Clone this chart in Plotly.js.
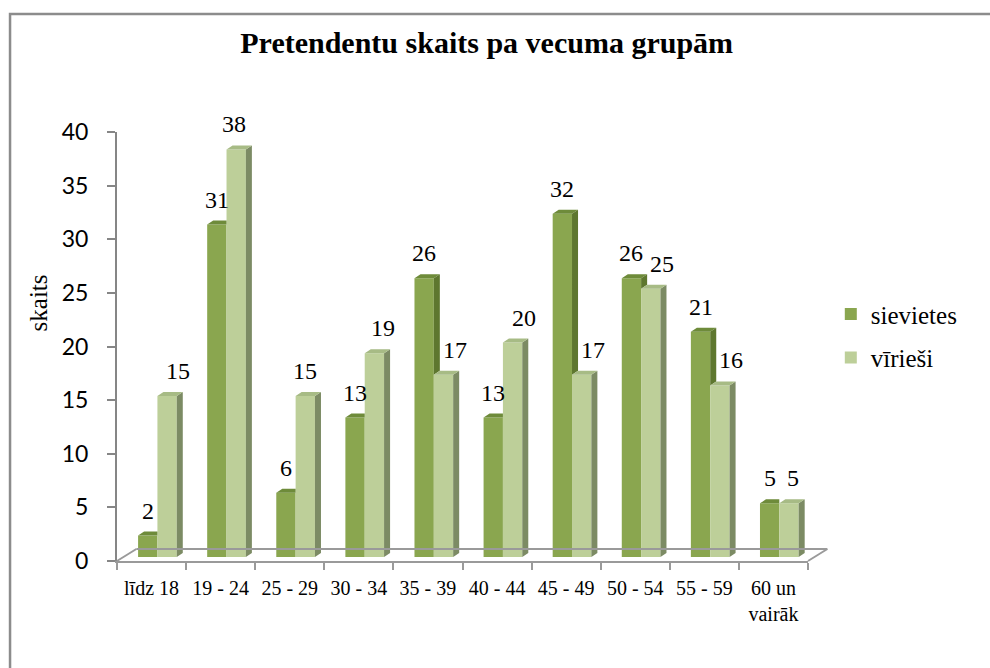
<!DOCTYPE html>
<html>
<head>
<meta charset="utf-8">
<script src="https://cdn.plot.ly/plotly-3.0.1.min.js"></script>
<style>html,body{margin:0;padding:0;background:#fff;}#chart{width:990px;height:668px;}</style>
</head>
<body>
<div id="chart"></div>
<script>
// ---- data ----
const categories = ['līdz 18', '19 - 24', '25 - 29', '30 - 34', '35 - 39', '40 - 44', '45 - 49', '50 - 54', '55 - 59', '60 un<br>vairāk'];
const sievietes = [2, 31, 6, 13, 26, 13, 32, 26, 21, 5];
const virieši = [15, 38, 15, 19, 17, 20, 17, 25, 16, 5];
const seriesNames = ['sievietes', 'vīrieši'];
const yTicks = [0, 5, 10, 15, 20, 25, 30, 35, 40];
const titleText = 'Pretendentu skaits pa vecuma grupām';
const yTitle = 'skaits';

// ---- styles / geometry ----
const SERIF = "'Liberation Serif', 'Times New Roman', serif";
const FRONT = ['#8aa64f', '#bdcf99'];
const TOP = ['#6e8b3a', '#a7bb85'];
const SIDE = ['#5e772f', '#7c8b64'];
const OFF = [-0.195, 0.085];
const W = 0.28;
const DX = 0.087, DY = 0.373;
const lightNudge = [11, -2, 0, 9, 11, 11, 11, 11, 11, 4];
const series = [sievietes, virieši];
const idx = categories.map((_, i) => i);

const traces = [];
// anchor trace so the primary x/y subplot (and its y axis) is drawn
traces.push({type: 'scatter', mode: 'markers', x: categories, y: categories.map(() => null),
  xaxis: 'x', yaxis: 'y', showlegend: false, hoverinfo: 'skip'});
series.forEach((vals, s) => {
  traces.push({
    type: 'bar', name: seriesNames[s], x: categories, y: vals,
    xaxis: 'x', yaxis: 'y2', offset: OFF[s], width: W,
    marker: {color: FRONT[s], line: {width: 0}},
    legendgroup: 'g' + s, hoverinfo: 'name+y'
  });
});

function faceTrace(xs, ys, color) {
  return {type: 'scatter', mode: 'lines', x: xs, y: ys, xaxis: 'x2', yaxis: 'y2',
    fill: 'toself', fillcolor: color, line: {width: 0, color: color},
    showlegend: false, hoverinfo: 'skip'};
}
let tx = [], ty = [], sx = [], sy = [];
idx.forEach(i => {
  const v = sievietes[i], L = virieši[i];
  const xl = i + OFF[0], xr = xl + W;
  if (L >= v) {
    tx.push(xl, xr, xr, xl + DX, xl, null); ty.push(v, v, v + DY, v + DY, v, null);
  } else {
    tx.push(xl, xr, xr + DX, xl + DX, xl, null); ty.push(v, v, v + DY, v + DY, v, null);
    sx.push(xr, xr, xr + DX, xr + DX, xr, null); sy.push(L, v, v + DY, L + DY, L, null);
  }
});
traces.push(faceTrace(tx, ty, TOP[0]));
traces.push(faceTrace(sx, sy, SIDE[0]));
tx = []; ty = []; sx = []; sy = [];
idx.forEach(i => {
  const v = virieši[i];
  const xl = i + OFF[1], xr = xl + W;
  tx.push(xl, xr, xr + DX, xl + DX, xl, null); ty.push(v, v, v + DY, v + DY, v, null);
  sx.push(xr, xr, xr + DX, xr + DX, xr, null); sy.push(0, v, v + DY, DY, 0, null);
});
traces.push(faceTrace(sx, sy, SIDE[1]));
traces.push(faceTrace(tx, ty, TOP[1]));

const annotations = [];
series.forEach((vals, s) => {
  vals.forEach((v, i) => {
    annotations.push({
      xref: 'x2', yref: 'y2', x: i + OFF[s] + W / 2, y: v,
      text: String(v), showarrow: false, yanchor: 'middle', xanchor: 'center',
      yshift: 25, xshift: s === 1 ? lightNudge[i] : 0,
      font: {family: SERIF, size: 24, color: '#000'}
    });
  });
});
annotations.push({
  xref: 'paper', yref: 'paper', x: -0.114, y: 0.601, text: yTitle, textangle: -90,
  showarrow: false, xanchor: 'center', yanchor: 'middle',
  font: {family: SERIF, size: 25, color: '#000'}
});

const FDX = 0.028, FDY = 0.028;
const gray = '#9a9a9a';
const shapes = [
  {type: 'line', xref: 'paper', yref: 'paper', x0: FDX, y0: FDY, x1: 1 + FDX, y1: FDY, line: {color: gray, width: 2}},
  {type: 'line', xref: 'paper', yref: 'paper', x0: 0, y0: 0, x1: FDX, y1: FDY, line: {color: gray, width: 2}},
  {type: 'line', xref: 'paper', yref: 'paper', x0: 1, y0: 0, x1: 1 + FDX, y1: FDY, line: {color: gray, width: 2}},
  {type: 'rect', xref: 'paper', yref: 'paper', x0: -0.1548, y0: -0.3, x1: 1.3, y1: 1.275, line: {color: '#8c8c8c', width: 2.5}}
];

const layout = {
  width: 990, height: 668,
  margin: {l: 117, r: 182, t: 132, b: 107},
  paper_bgcolor: '#fff', plot_bgcolor: 'rgba(0,0,0,0)',
  barmode: 'overlay',
  title: {text: '<b>' + titleText + '</b>', x: 0.535, xref: 'paper', xanchor: 'center', y: 0.936, yanchor: 'middle',
    font: {family: SERIF, size: 30, color: '#000'}},
  xaxis: {type: 'category', categoryarray: categories, range: [-0.5, 9.5], tickson: 'boundaries',
    ticks: 'outside', ticklen: 7, tickcolor: gray, tickwidth: 2, showline: true, linecolor: gray, linewidth: 2,
    showgrid: false, zeroline: false, tickangle: 0, fixedrange: true, ticklabelstandoff: 8,
    tickfont: {family: SERIF, size: 20, color: '#000'}},
  xaxis2: {overlaying: 'x', range: [-0.5, 9.5], visible: false, fixedrange: true},
  yaxis: {range: [0, 40], tickvals: yTicks, ticks: 'outside', ticklen: 8, tickcolor: '#868686', tickwidth: 2,
    showline: true, linecolor: '#868686', linewidth: 2, showgrid: false, zeroline: false,
    ticklabelstandoff: 14, fixedrange: true,
    tickfont: {family: 'Lato, "Open Sans", sans-serif', size: 23, color: '#000'}},
  yaxis2: {overlaying: 'y', range: [-DY, 40 - DY], visible: false, fixedrange: true},
  showlegend: true,
  legend: {x: 1.033, y: 0.629, xanchor: 'left', yanchor: 'top', tracegroupgap: 8,
    font: {family: SERIF, size: 25, color: '#000'}, bgcolor: 'rgba(0,0,0,0)'},
  annotations: annotations,
  shapes: shapes
};

Plotly.newPlot('chart', traces, layout, {displayModeBar: false, staticPlot: true});
</script>
</body>
</html>
